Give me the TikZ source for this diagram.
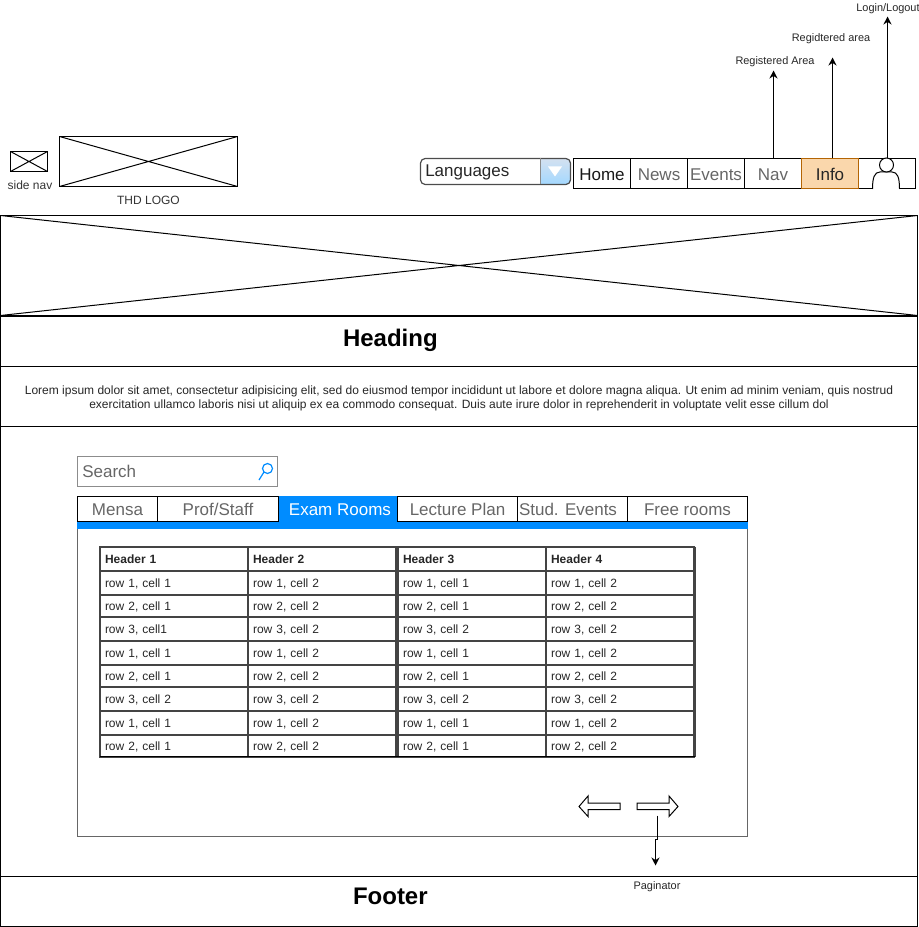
\documentclass[tikz,border=0pt]{standalone}
\usepackage{fontspec}
\setmainfont{Liberation Sans}
\usetikzlibrary{arrows.meta}
\definecolor{txtgray}{HTML}{666666}
\definecolor{tabblue}{HTML}{008CFF}
\definecolor{panelgray}{HTML}{666666}
\definecolor{infofill}{HTML}{FAD7AC}
\definecolor{infoline}{HTML}{B46504}
\definecolor{cellline}{HTML}{444444}
\definecolor{dropA}{HTML}{D4E1F0}
\definecolor{dropB}{HTML}{A3D8FF}
\newcommand{\fs}[1]{\fontsize{#1}{#1}\selectfont}
\newcommand{\Lift}[2]{\raisebox{#1}[\height][\depth]{#2}}
\tikzset{
  x=0.75pt,y=-0.75pt,
  wf/.style={draw=black,line width=0.75pt,inner sep=0pt,outer sep=0pt,anchor=north west},
  lbl/.style={inner sep=0pt,outer sep=0pt,font=\fs{9pt},text=black!80},
  small/.style={inner sep=0pt,outer sep=0pt,font=\fs{8.2pt},text=black!85},
  navtxt/.style={font=\fs{12.75pt},text=txtgray},
  ttl/.style={font=\fs{18pt}\bfseries},
  cell/.style={draw=cellline,line width=1.5pt,anchor=north west,inner ysep=0pt,inner xsep=3.75pt,outer sep=0pt,align=left,font=\fs{9pt},text=black!85},
  conn/.style={draw=black,line width=0.75pt,-{Stealth[length=6pt,width=6pt]}},
  wfarrow/.style={draw=black,line width=0.75pt,fill=white,line join=miter},
}
\newcommand{\Bx}[6][]{\node[wf,minimum width={(#5-#3)*0.75pt},minimum height={(#6-#4)*0.75pt},#1] (#2) at (#3,#4) {};}
\newcommand{\Tx}[7][]{\node[wf,minimum width={(#6-#4)*0.75pt},minimum height={(#7-#5)*0.75pt},#1] (#2) at (#4,#5) {#3};}
\newcommand{\Cross}[1]{\draw[line width=0.75pt] (#1.north west)--(#1.south east) (#1.north east)--(#1.south west);}
\newcommand{\Cell}[6]{\node[cell,text width={(#3-#2-10)*0.75pt},minimum height={(#5-#4)*0.75pt}] (#1) at (#2,#4) {\strut\Lift{-1.5pt}{#6}};}
\newcommand{\Row}[7]{%
  \Cell{#1a}{99.5}{247.5}{#2}{#3}{#4}\Cell{#1b}{247.5}{395.5}{#2}{#3}{#5}%
  \Cell{#1c}{397.5}{545.5}{#2}{#3}{#6}\Cell{#1d}{545.5}{693.5}{#2}{#3}{#7}}
\begin{document}
\begin{tikzpicture}
\useasboundingbox (-0.5,0.5) rectangle (918.5,927.5);
% page bands
\Bx{hero}{0}{216}{917}{316}
\Cross{hero}
\Tx[ttl]{heading}{\hspace*{-103pt}\Lift{1.15pt}{Heading}}{0}{317}{917}{367}
\Tx[font=\fs{9pt},align=center,text=black!85]{lorem}{\Lift{-1.5pt}{\parbox{680pt}{\centering\baselineskip=10.5pt Lorem ipsum dolor sit amet, consectetur adipisicing elit, sed do eiusmod tempor incididunt ut labore et dolore magna aliqua. Ut enim ad minim veniam, quis nostrud\\exercitation ullamco laboris nisi ut aliquip ex ea commodo consequat. Duis aute irure dolor in reprehenderit in voluptate velit esse cillum dol}}}{0}{367}{917}{427}
\Bx{mainarea}{0}{427}{917}{877}
\Tx[ttl]{footer}{\hspace*{-103pt}\Lift{3.75pt}{Footer}}{0}{877}{917}{927}
% logo
\Bx{sidenav}{10}{152}{47}{172}
\Cross{sidenav}
\node[lbl] (sidenavlabel) at (29.5,185.5) {side nav};
\Bx{logo}{59}{137}{237}{187}
\Cross{logo}
\node[lbl] (logolabel) at (148,200.5) {THD LOGO};
% language dropdown
\shade[top color=dropA,bottom color=dropB] (540,159) -- (567,159) -- (570,162) -- (570,182) -- (567,185) -- (540,185) -- cycle;
\node[wf,fill=none,draw=black!70,line width=0.9pt,rounded corners=3.5pt,minimum width=112.5pt,minimum height=19.5pt] (lang) at (420,159) {};
\draw[black!45,line width=0.5pt] (540,159) -- (540,185);
\fill[white] (547.5,167) -- (561.5,167) -- (554.5,177) -- cycle;
\node[anchor=west,inner sep=0pt,font=\fs{12.75pt},text=black!85] (langtext) at (424.5,172.5) {Languages};
% top navigation
\Tx[font=\fs{12.75pt},text=black!90]{home}{\Lift{-1.1pt}{Home}}{573}{159}{630}{189.5}
\Tx[navtxt]{news}{\Lift{-1.1pt}{News}}{630}{159}{687}{189.5}
\Tx[navtxt]{events}{\Lift{-1.1pt}{Events}}{687}{159}{744}{189.5}
\Tx[navtxt]{navitem}{\Lift{-1.1pt}{Nav}}{744}{159}{801}{189.5}
\Tx{user}{}{858}{159}{915}{189.5}
\Tx[font=\fs{12.75pt},fill=infofill,draw=infoline,text=black!85]{info}{\Lift{-0.6pt}{Info}}{801}{159}{858}{189.5}
\draw[line width=0.75pt,fill=white] (872,189.5) .. controls (872,178) and (874,172.5) .. (879.5,172.5) -- (891.5,172.5) .. controls (897,172.5) and (899,178) .. (899,189.5);
\draw[line width=0.75pt,fill=white] (886,165.5) circle (7);
% search
\Tx[draw=black!45,line width=1pt]{search}{}{77}{457}{277}{487}
\node[anchor=west,inner sep=0pt,font=\fs{12.75pt},text=txtgray] (searchtext) at (81.5,472) {Search};
\draw[tabblue,line width=0.9pt] (267,469) circle (5);
\draw[tabblue,line width=0.9pt] (263.5,472.5) -- (258.5,480.5);
% panel and tabs
\Bx[draw=panelgray]{panel}{77}{522}{747}{837}
\fill[tabblue] (76.5,522.5) rectangle (747.5,529.5);
\Tx[navtxt]{mensa}{\Lift{-0.4pt}{Mensa}}{77}{497}{157}{522}
\Tx[navtxt]{prof}{\Lift{-0.4pt}{Prof/Staff}}{157}{497}{278}{522}
\node[anchor=north west,fill=tabblue,text=white,font=\fs{12.75pt},inner sep=0pt,outer sep=0pt,minimum width=89.25pt,minimum height=20pt] (exam) at (278.5,496) {\hspace*{2.2pt}\Lift{-0.4pt}{Exam Rooms}};
\Tx[navtxt]{lecture}{\Lift{-0.4pt}{Lecture Plan}}{397}{497}{517}{522}
\Tx[navtxt]{stud}{\Lift{-0.4pt}{Stud. Events}\hspace*{6.75pt}}{517}{497}{627}{522}
\Tx[navtxt]{free}{\Lift{-0.4pt}{Free rooms}}{627}{497}{747}{522}
% tables
\Row{h}{547.5}{571.5}{\textbf{Header 1}}{\textbf{Header 2}}{\textbf{Header 3}}{\textbf{Header 4}}
\Row{p}{571.5}{595.5}{row 1, cell 1}{row 1, cell 2}{row 1, cell 1}{row 1, cell 2}
\Row{q}{595.5}{617.5}{row 2, cell 1}{row 2, cell 2}{row 2, cell 1}{row 2, cell 2}
\Row{r}{617.5}{641.5}{row 3, cell1}{row 3, cell 2}{row 3, cell 2}{row 3, cell 2}
\Row{s}{641.5}{665.5}{row 1, cell 1}{row 1, cell 2}{row 1, cell 1}{row 1, cell 2}
\Row{t}{665.5}{687.5}{row 2, cell 1}{row 2, cell 2}{row 2, cell 1}{row 2, cell 2}
\Row{u}{687.5}{711.5}{row 3, cell 2}{row 3, cell 2}{row 3, cell 2}{row 3, cell 2}
\Row{v}{711.5}{735.5}{row 1, cell 1}{row 1, cell 2}{row 1, cell 1}{row 1, cell 2}
\Row{w}{735.5}{757}{row 2, cell 1}{row 2, cell 2}{row 2, cell 1}{row 2, cell 2}
\draw[cellline,line width=1.8pt] (694,547) -- (694,757);
\draw[black,line width=0.9pt] (99.5,757) -- (694.5,757);
% paginator arrows
\draw[wfarrow] (578.5,807) -- (587.5,796.5) -- (587.5,803.5) -- (619.5,803.5) -- (619.5,810) -- (587.5,810) -- (587.5,817) -- cycle;
\draw[wfarrow] (677.5,807) -- (668.5,796.5) -- (668.5,803.5) -- (636.5,803.5) -- (636.5,810) -- (668.5,810) -- (668.5,817) -- cycle;
% labels
\node[small] (lblreg) at (774.5,62.5) {Registered Area};
\node[small] (lblreg2) at (830.5,39.5) {Regidtered area};
\node[small] (lbllogin) at (887.5,9.5) {Login/Logout};
\node[small] (lblpag) at (656.5,887.5) {Paginator};
% connectors
\coordinate (regend) at (773,71);
\coordinate (reg2end) at (832,58);
\coordinate (loginend) at (887,17);
\coordinate (pagstart) at (657,816);
\coordinate (pagend) at (655,866);
\draw[conn] (navitem.north -| regend) -- (regend);
\draw[conn] (info.north -| reg2end) -- (reg2end);
\draw[conn] (user.north -| loginend) -- (loginend);
\draw[conn] (pagstart) -- ++(0,24) -| (pagend);
\end{tikzpicture}
\end{document}
